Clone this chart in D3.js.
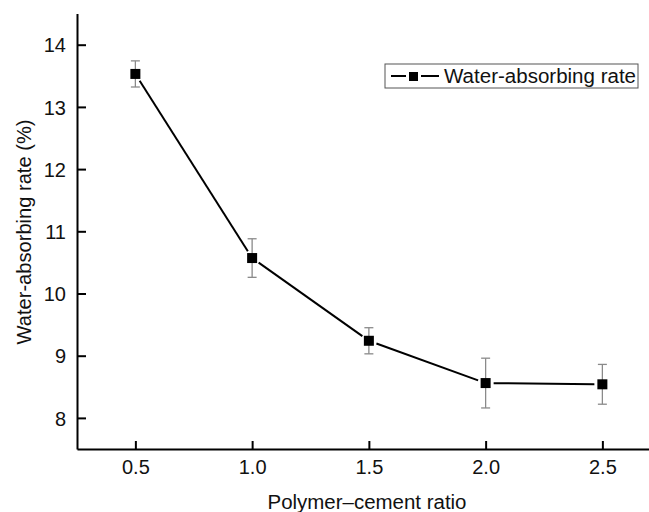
<!DOCTYPE html>
<html><head><meta charset="utf-8">
<script src="https://cdn.jsdelivr.net/npm/d3@7"></script>
<style>body{margin:0;background:#fff}svg{display:block}text{font-family:"Liberation Sans",Arial,sans-serif;fill:#111}</style>
</head><body>
<svg id="c" width="649" height="512"></svg>
<script>
const ratios = [0.5, 1.0, 1.5, 2.0, 2.5];
const rates = [13.53, 10.57, 9.24, 8.56, 8.54];
const errors = [0.21, 0.31, 0.21, 0.40, 0.32];
const xTicks = [0.5, 1.0, 1.5, 2.0, 2.5];
const yTicks = [8, 9, 10, 11, 12, 13, 14];
const seriesName = "Water-absorbing rate";
const xTitle = "Polymer\u2013cement ratio";
const yTitle = "Water-absorbing rate (%)";

const svg = d3.select("#c");
const x = d3.scaleLinear().domain([0.25, 2.75]).range([77, 660.75]);
const y = d3.scaleLinear().domain([7.5, 14.5]).range([449, 13.6]);
const fs = 20;

// axes
const xa = svg.append("g").attr("transform", "translate(0,449)")
  .call(d3.axisBottom(x).tickValues(xTicks).tickFormat(d3.format(".1f")).tickSizeInner(-8).tickSizeOuter(0).tickPadding(11));
const ya = svg.append("g").attr("transform", "translate(77,0)")
  .call(d3.axisLeft(y).tickValues(yTicks).tickFormat(d3.format("d")).tickSizeInner(-9).tickSizeOuter(0).tickPadding(11));
[xa, ya].forEach(g => {
  g.select(".domain").attr("stroke", "#000").attr("stroke-width", 2);
  g.selectAll(".tick line").attr("stroke", "#000").attr("stroke-width", 2);
  g.selectAll(".tick text").attr("font-size", fs).attr("fill", "#111").attr("font-family", "Liberation Sans, Arial, sans-serif");
});
ya.selectAll(".tick text").attr("dy", "0.36em");

// axis titles
svg.append("text").attr("x", 367).attr("y", 509).attr("text-anchor", "middle")
  .attr("font-size", fs).attr("textLength", 199).attr("lengthAdjust", "spacingAndGlyphs").text(xTitle);
svg.append("text").attr("transform", "translate(31,232) rotate(-90)").attr("text-anchor", "middle")
  .attr("font-size", fs).attr("textLength", 225).attr("lengthAdjust", "spacingAndGlyphs").text(yTitle);

// error bars
const eb = svg.append("g").attr("stroke", "#8a8a8a").attr("stroke-width", 1.3);
ratios.forEach((r, i) => {
  const cx = x(r), t = y(rates[i] + errors[i]), b = y(rates[i] - errors[i]);
  eb.append("line").attr("x1", cx).attr("x2", cx).attr("y1", t).attr("y2", b);
  eb.append("line").attr("x1", cx - 4.5).attr("x2", cx + 4.5).attr("y1", t).attr("y2", t);
  eb.append("line").attr("x1", cx - 4.5).attr("x2", cx + 4.5).attr("y1", b).attr("y2", b);
});

// line segments with gaps near markers
const gap = 8;
for (let i = 0; i < ratios.length - 1; i++) {
  const x1 = x(ratios[i]), y1 = y(rates[i]), x2 = x(ratios[i + 1]), y2 = y(rates[i + 1]);
  const L = Math.hypot(x2 - x1, y2 - y1), ux = (x2 - x1) / L, uy = (y2 - y1) / L;
  svg.append("line").attr("x1", x1 + ux * gap).attr("y1", y1 + uy * gap)
    .attr("x2", x2 - ux * gap).attr("y2", y2 - uy * gap)
    .attr("stroke", "#000").attr("stroke-width", 2);
}
// markers
svg.append("g").selectAll("rect").data(ratios).join("rect")
  .attr("x", d => x(d) - 5).attr("y", (d, i) => y(rates[i]) - 5)
  .attr("width", 10).attr("height", 10).attr("fill", "#000");

// legend
const lg = svg.append("g");
lg.append("rect").attr("x", 385).attr("y", 64).attr("width", 253).attr("height", 24)
  .attr("fill", "#fff").attr("stroke", "#555").attr("stroke-width", 1);
lg.append("line").attr("x1", 391).attr("x2", 406).attr("y1", 76).attr("y2", 76).attr("stroke", "#000").attr("stroke-width", 2);
lg.append("line").attr("x1", 421).attr("x2", 439).attr("y1", 76).attr("y2", 76).attr("stroke", "#000").attr("stroke-width", 2);
lg.append("rect").attr("x", 409).attr("y", 72).attr("width", 9).attr("height", 9).attr("fill", "#000");
lg.append("text").attr("x", 444).attr("y", 83).attr("font-size", fs)
  .attr("textLength", 192).attr("lengthAdjust", "spacingAndGlyphs").text(seriesName);
</script>
</body></html>
